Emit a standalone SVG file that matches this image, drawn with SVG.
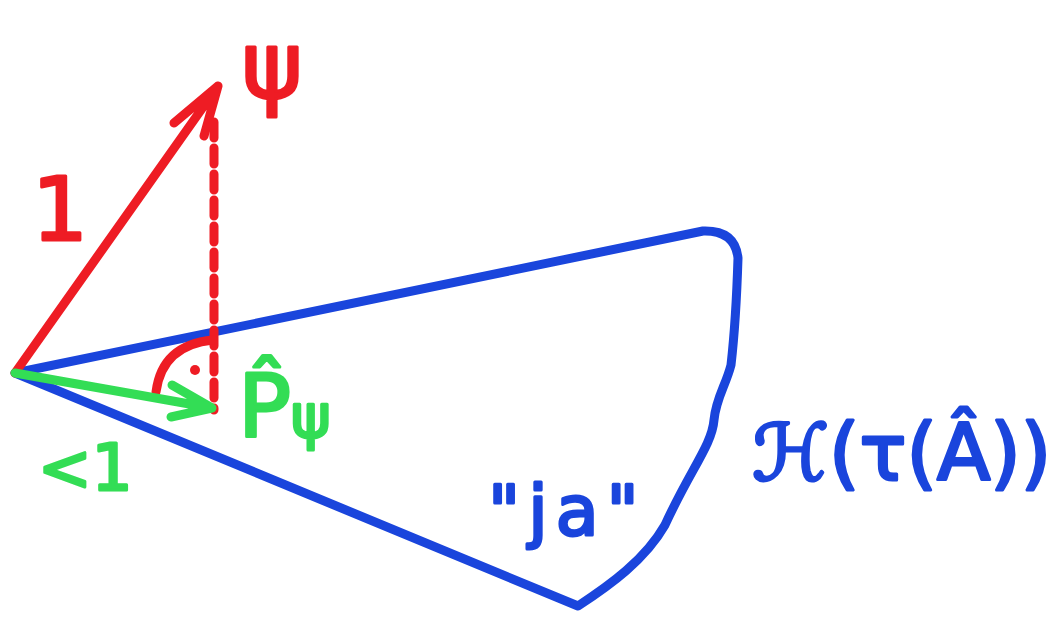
<svg xmlns="http://www.w3.org/2000/svg" width="1050" height="618" viewBox="0 0 1050 618">
<style>
.stroke{fill:none;stroke-linecap:round;stroke-linejoin:round;stroke-width:9}
.red{stroke:#ee1c24}
.blue{stroke:#1a45dc}
.green{stroke:#33dd55}
.lbl{font-family:"DejaVu Sans","Liberation Sans",sans-serif;font-weight:normal;stroke-width:3;stroke-linejoin:round}
.tred{fill:#ee1c24;stroke:#ee1c24}
.tblue{fill:#1a45dc;stroke:#1a45dc}
.tgreen{fill:#33dd55;stroke:#33dd55}
</style>
<rect width="1050" height="618" fill="#ffffff"/>
<g id="region">
<path class="stroke blue" d="M15,373 L703,231 Q735,230 738,258 C737,290 735,330 731,365 C726,385 716,398 714,420 C712,445 690,470 665,525 C645,560 610,585 578,606 Z"/>
</g>
<g id="connectors">
<path class="stroke red" d="M15,373 L218,86 M174,123 L218,86 L204,136"/>
<path class="stroke red" d="M214,122 L214,410" stroke-dasharray="16,10"/>
<path class="stroke red" d="M156,392 Q162,345 213,340"/>
<circle cx="195" cy="370" r="5" fill="#ee1c24"/>
<path class="stroke green" d="M15,373 L212,408 M172,385 L212,408 L171,417"/>
</g>
<g id="label-psi"><text class="lbl tred" x="272" y="98" font-size="92" text-anchor="middle">ψ</text></g>
<g id="label-one"><text class="lbl tred" x="60" y="240" font-size="88" text-anchor="middle">1</text></g>
<g id="label-proj"><text class="lbl tgreen" x="238" y="437" font-size="88">P̂<tspan font-size="60">ψ</tspan></text></g>
<g id="label-less"><text class="lbl tgreen" x="38" y="490" font-size="64">&lt;1</text></g>
<g id="label-ja"><text class="lbl tblue" x="488" y="535" font-size="70" letter-spacing="8">"ja"</text></g>
<g id="label-H"><text class="lbl tblue" x="752" y="480" font-size="78">ℋ(τ(Â))</text></g>
</svg>
